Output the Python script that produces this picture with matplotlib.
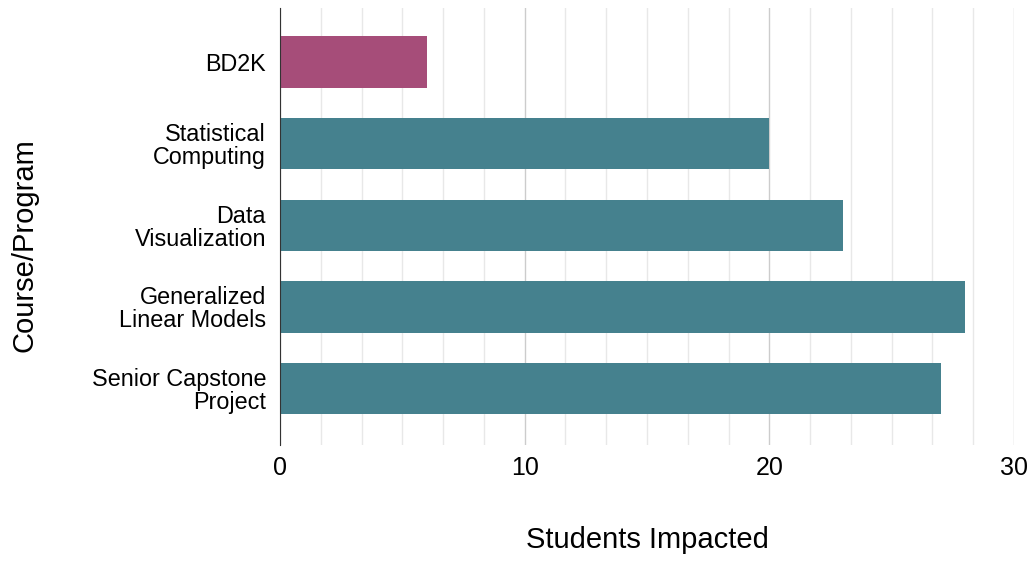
import matplotlib
matplotlib.use('Agg')
import matplotlib.pyplot as plt
from matplotlib.ticker import MultipleLocator

# Data
courses = ['BD2K', 'Statistical\nComputing', 'Data\nVisualization',
           'Generalized\nLinear Models', 'Senior Capstone\nProject']
students = [6, 20, 23, 28, 27]
bar_colors = ['#a64d79', '#45818e', '#45818e', '#45818e', '#45818e']

plt.rcParams['font.family'] = ['Liberation Sans', 'DejaVu Sans']

fig = plt.figure(figsize=(10.27, 5.87), dpi=100)
ax = fig.add_axes([0.2726, 0.2419, 0.7147, 0.7445])

pos = list(range(len(courses)))
ax.barh(pos, students, height=0.63, color=bar_colors, zorder=3)

ax.set_xlim(0, 30)
ax.set_ylim(4.69, -0.66)
ax.set_yticks(pos)
ax.set_yticklabels(courses, fontsize=16.8, linespacing=1.0)
ax.xaxis.set_major_locator(MultipleLocator(10))
ax.xaxis.set_minor_locator(MultipleLocator(10 / 6))
ax.tick_params(axis='x', labelsize=18, length=0, pad=8, which='both')
ax.tick_params(axis='y', length=0, pad=10)

# Grid lines
ax.grid(True, axis='x', which='major', color='#cccccc', linewidth=1, zorder=0)
ax.grid(True, axis='x', which='minor', color='#e8e8e8', linewidth=1, zorder=0)

for s in ['top', 'right', 'bottom']:
    ax.spines[s].set_visible(False)
ax.spines['left'].set_color('#333333')
ax.spines['left'].set_zorder(4)

fig.text(0.63, 0.08, 'Students Impacted', fontsize=21, ha='center', va='center')
fig.text(0.024, 0.583, 'Course/Program', fontsize=21, ha='center', va='center',
         rotation=90)

fig.savefig('out.png', dpi=100)
